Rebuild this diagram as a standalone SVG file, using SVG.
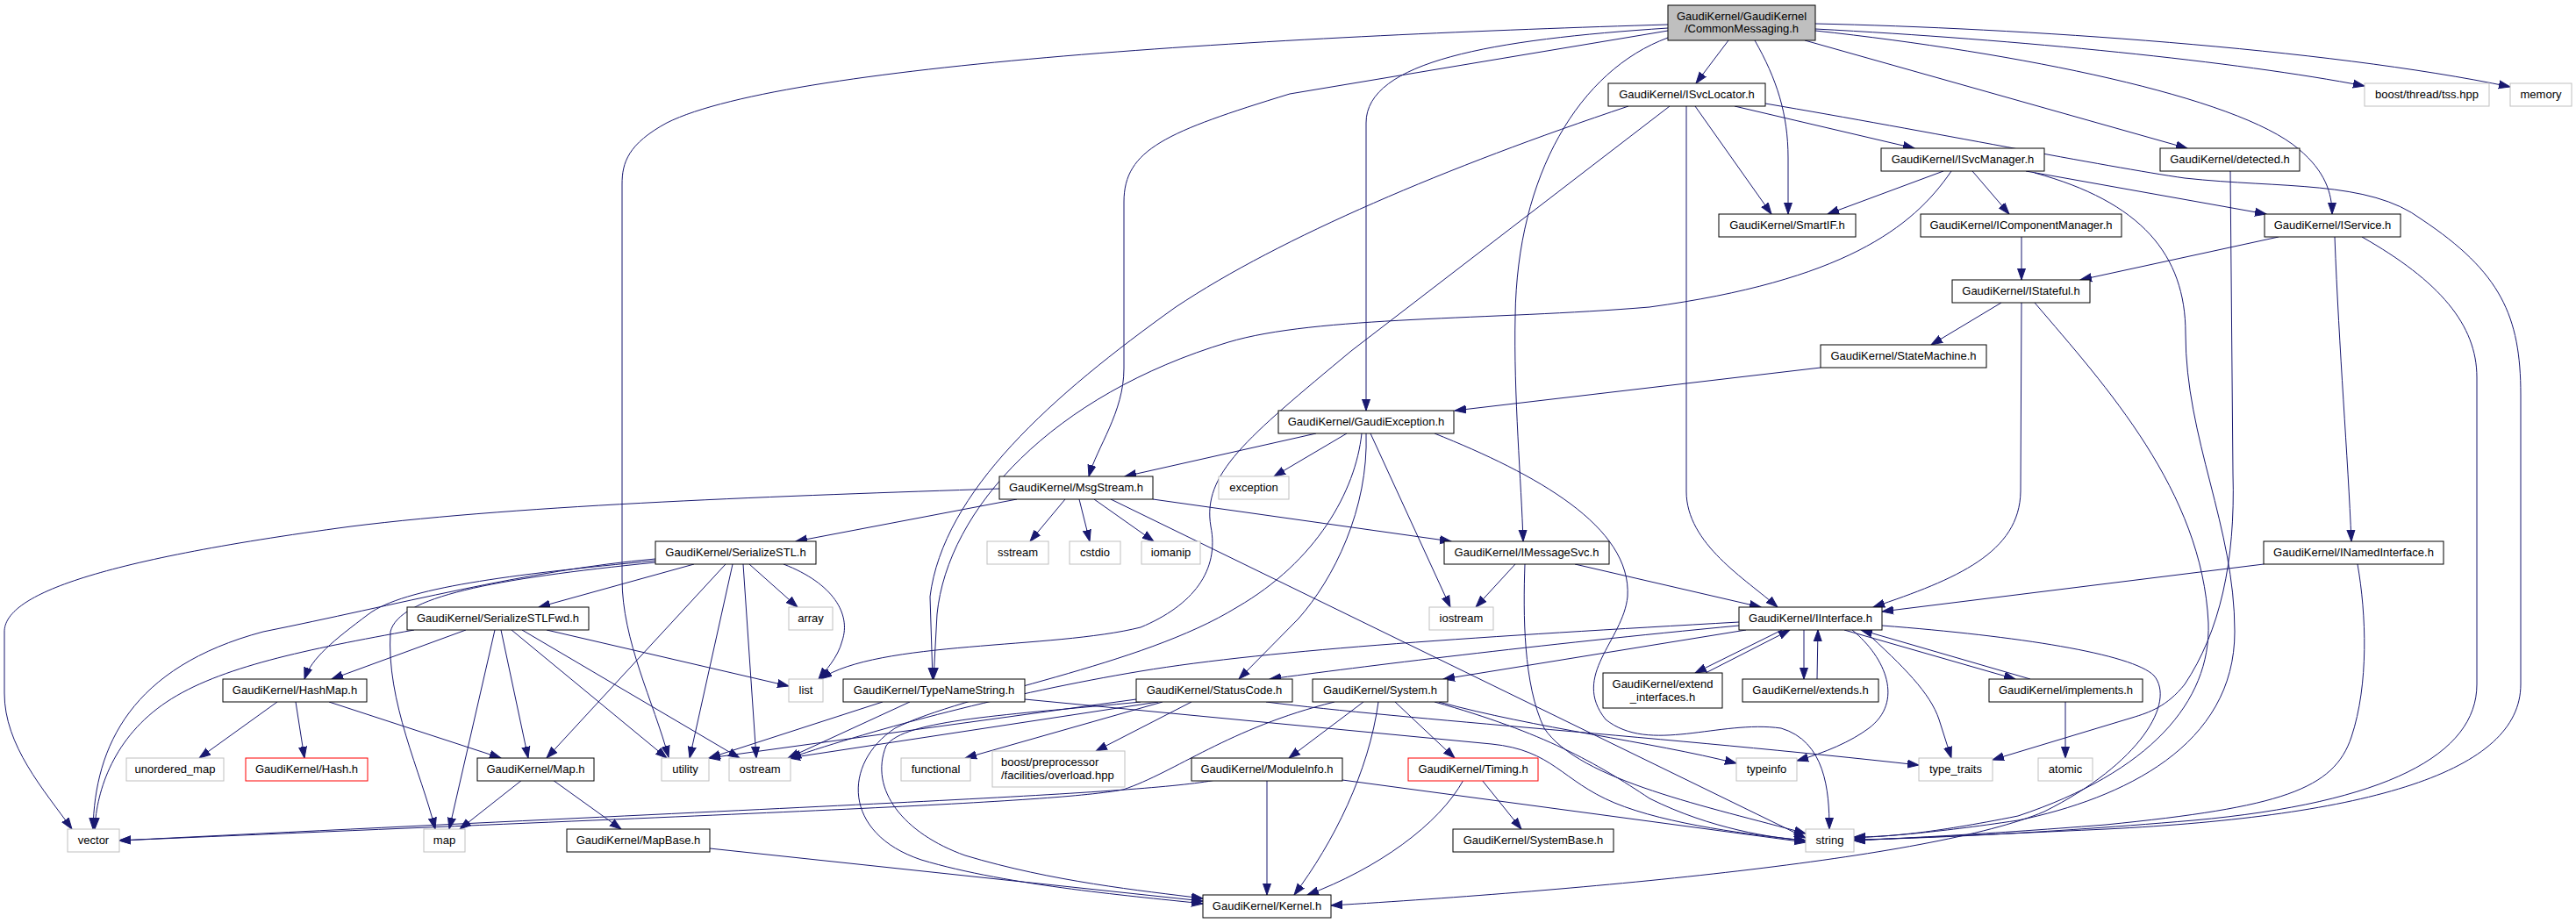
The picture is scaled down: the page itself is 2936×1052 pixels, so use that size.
<svg xmlns="http://www.w3.org/2000/svg" width="2936" height="1052" viewBox="0 0 2936 1052">
<defs>
<marker id="ah" markerUnits="userSpaceOnUse" markerWidth="14" markerHeight="11" viewBox="0 0 14 11" refX="13" refY="5.5" orient="auto">
<path d="M0,1 L13,5.5 L0,10 Z" fill="#191970" stroke="#191970" stroke-width="1"/>
</marker>
<style>
rect{fill:#fff;stroke:#000;stroke-width:1}
.gray rect{stroke:#bfbfbf}
.red rect{stroke:#ff0000}
.root rect{fill:#bfbfbf}
text{font-family:"Liberation Sans",Arial,Helvetica,sans-serif;font-size:13px;fill:#000;text-anchor:middle}
.left text{text-anchor:start}
#edges path{fill:none;stroke:#191970;stroke-width:1;marker-end:url(#ah)}
</style>
</defs>
<rect x="0" y="0" width="2936" height="1052" style="fill:#fff;stroke:none"/>
<g id="edges">
<path d="M1901,28 C1500,40 900,70 760,140 C716,164 709,185 709,210 L709,660 C709,730 745,800 762,863"/>
<path d="M1901,32 C1700,45 1557,70 1557,140 L1557,468"/>
<path d="M1901,35 L1470,107 C1330,150 1281,170 1281,230 L1281,420 C1281,470 1250,510 1241,543"/>
<path d="M1901,43 C1800,80 1729,200 1727,360 C1725,450 1734,550 1736,617"/>
<path d="M1970,46 L1933,95"/>
<path d="M2000,46 C2025,90 2038,130 2038,180 L2038,244"/>
<path d="M2069,27 C2300,32 2650,55 2861,99"/>
<path d="M2069,33 C2300,45 2550,70 2695,98"/>
<path d="M2069,35 C2300,60 2550,110 2620,170 C2650,195 2658,220 2658,244"/>
<path d="M2057,46 L2493,169"/>
<path d="M1856,121 C1650,190 1460,270 1340,350 C1200,450 1075,560 1060,680 L1063,774"/>
<path d="M2224,195 C2180,260 2100,320 1880,350 C1700,365 1500,360 1400,390 C1200,450 1080,580 1068,700 L1064,774"/>
<path d="M1903,121 L1540,400 C1420,500 1370,540 1380,600 C1390,650 1360,690 1300,715 C1200,740 1000,730 935,774"/>
<path d="M1922,121 L1922,560 C1922,620 1990,660 2026,692"/>
<path d="M1932,121 L2019,244"/>
<path d="M1977,121 L2182,169"/>
<path d="M2012,118 C2200,150 2400,190 2490,203 C2600,215 2700,205 2760,250 C2850,310 2873,360 2873,450 L2873,780 C2873,880 2700,930 2400,945 C2250,952 2150,956 2113,958"/>
<path d="M2215,195 L2083,244"/>
<path d="M2248,195 L2290,244"/>
<path d="M2309,195 L2583,244"/>
<path d="M2319,197 C2440,230 2491,290 2491,380 C2491,500 2547,600 2547,720 C2547,850 2420,910 2300,935 C2200,950 2150,953 2113,955"/>
<path d="M2542,195 L2545,540 C2548,640 2530,720 2490,780 C2470,805 2450,812 2430,818 L2271,866"/>
<path d="M2304,270 L2304,319"/>
<path d="M2597,270 L2371,319"/>
<path d="M2661,270 C2666,400 2676,520 2680,617"/>
<path d="M2692,270 C2780,320 2823,370 2823,430 L2823,780 C2823,860 2720,915 2500,935 C2300,952 2170,956 2113,957"/>
<path d="M2281,345 L2201,393"/>
<path d="M2304,345 L2303,560 C2302,630 2230,660 2135,692"/>
<path d="M2319,345 C2400,440 2510,560 2517,710 C2520,800 2450,880 2300,930 C2200,950 2150,954 2113,954"/>
<path d="M2075,419 L1658,468"/>
<path d="M1500,494 L1282,543"/>
<path d="M1535,494 L1452,543"/>
<path d="M1552,494 C1545,560 1500,640 1410,692 C1300,760 1100,790 1020,830 C960,870 960,950 1050,980 C1150,1010 1300,1022 1371,1030"/>
<path d="M1557,494 C1560,580 1520,660 1480,705 L1412,774"/>
<path d="M1562,494 L1653,692"/>
<path d="M1635,494 C1750,540 1860,600 1855,680 C1850,730 1790,770 1830,820 C1880,860 1960,820 2030,830 C2080,845 2085,900 2085,945"/>
<path d="M1139,557 C900,565 600,575 400,600 C100,640 5,680 5,720 L5,790 C5,850 50,900 82,945"/>
<path d="M1159,569 L907,617"/>
<path d="M1214,569 L1174,617"/>
<path d="M1230,569 L1242,617"/>
<path d="M1247,569 L1315,617"/>
<path d="M1266,569 L2058,955"/>
<path d="M1314,569 L1654,617"/>
<path d="M791,643 L614,692"/>
<path d="M747,637 C600,650 450,690 300,720 C150,760 108,850 106,945"/>
<path d="M747,639 C580,655 460,670 420,700 C380,730 355,750 347,774"/>
<path d="M747,641 C560,660 455,680 445,720 C440,800 480,880 496,945"/>
<path d="M827,643 L623,864"/>
<path d="M835,643 L786,864"/>
<path d="M847,643 L862,864"/>
<path d="M854,643 L909,692"/>
<path d="M893,643 C950,665 970,700 960,730 C955,750 940,765 933,774"/>
<path d="M472,718 C350,740 250,760 190,800 C130,840 110,900 108,945"/>
<path d="M531,718 L378,774"/>
<path d="M564,718 L512,945"/>
<path d="M571,718 L602,864"/>
<path d="M583,718 L760,864"/>
<path d="M595,718 L843,864"/>
<path d="M623,718 L899,782"/>
<path d="M316,800 L227,864"/>
<path d="M337,800 L347,864"/>
<path d="M375,800 L571,864"/>
<path d="M595,889 L524,945"/>
<path d="M630,889 L708,945"/>
<path d="M809,967 L1371,1027"/>
<path d="M1006,800 L808,864"/>
<path d="M1037,800 L898,864"/>
<path d="M1168,797 L1700,848 C1770,855 1780,890 1840,915 C1900,940 2000,952 2058,958"/>
<path d="M1295,797 L808,864"/>
<path d="M1320,800 L899,864"/>
<path d="M1325,800 L1100,864"/>
<path d="M1358,800 L1249,856"/>
<path d="M1300,800 C1150,815 1030,820 1010,850 C990,900 1030,950 1100,975 C1200,1005 1300,1015 1371,1024"/>
<path d="M1443,800 C1600,820 1900,840 2187,872"/>
<path d="M1982,709 C1700,725 1450,740 1300,765 C1150,790 1000,830 900,864"/>
<path d="M1982,713 C1750,735 1550,760 1447,774"/>
<path d="M1990,718 L1645,774"/>
<path d="M2031,718 L1932,767"/>
<path d="M1944,767 L2040,718"/>
<path d="M2056,718 L2056,774"/>
<path d="M2071,774 L2072,718"/>
<path d="M2102,718 L2297,774"/>
<path d="M2314,774 L2121,718"/>
<path d="M2111,718 C2150,750 2170,800 2130,830 C2110,845 2080,858 2048,867"/>
<path d="M2124,718 C2170,760 2200,790 2210,820 L2224,864"/>
<path d="M2145,713 C2300,725 2430,745 2455,770 C2480,800 2440,870 2330,925 C2200,980 1800,1015 1517,1032"/>
<path d="M1727,643 L1682,692"/>
<path d="M1738,643 C1736,700 1736,780 1760,830 C1800,890 1950,920 2058,950"/>
<path d="M1795,643 L2007,692"/>
<path d="M2580,643 L2145,697"/>
<path d="M2687,643 C2697,700 2700,780 2680,840 C2660,900 2600,920 2400,940 C2250,952 2150,956 2113,958"/>
<path d="M1521,800 C1400,830 1340,880 1280,900 C1200,915 900,925 136,958"/>
<path d="M1554,800 L1469,864"/>
<path d="M1571,800 C1560,880 1520,960 1475,1020"/>
<path d="M1590,800 L1658,864"/>
<path d="M1640,800 C1750,830 1880,845 1979,870"/>
<path d="M1635,800 C1760,835 1820,870 1880,910 C1950,945 2020,955 2058,958"/>
<path d="M1386,889 C1300,905 1000,915 136,958"/>
<path d="M1444,889 L1444,1020"/>
<path d="M1530,889 L2058,960"/>
<path d="M1689,889 L1734,945"/>
<path d="M1668,889 C1640,940 1570,990 1490,1020"/>
<path d="M2354,800 L2354,864"/>
</g>
<g id="n_root" class="root"><rect x="1901" y="6" width="168" height="40"/><text x="1985" y="23">GaudiKernel/GaudiKernel</text><text x="1985" y="37">/CommonMessaging.h</text></g>
<g id="n_ISvcLocator"><rect x="1833" y="95" width="179" height="26"/><text x="1922.5" y="112">GaudiKernel/ISvcLocator.h</text></g>
<g id="n_ISvcManager"><rect x="2144" y="169" width="186" height="26"/><text x="2237" y="186">GaudiKernel/ISvcManager.h</text></g>
<g id="n_detected"><rect x="2462" y="169" width="159" height="26"/><text x="2541.5" y="186">GaudiKernel/detected.h</text></g>
<g id="n_tss" class="gray"><rect x="2695" y="95" width="142" height="26"/><text x="2766" y="112">boost/thread/tss.hpp</text></g>
<g id="n_memory" class="gray"><rect x="2861" y="95" width="70" height="26"/><text x="2896" y="112">memory</text></g>
<g id="n_SmartIF"><rect x="1959" y="244" width="156" height="26"/><text x="2037" y="261">GaudiKernel/SmartIF.h</text></g>
<g id="n_IComponentManager"><rect x="2189" y="244" width="229" height="26"/><text x="2303.5" y="261">GaudiKernel/IComponentManager.h</text></g>
<g id="n_IService"><rect x="2581" y="244" width="155" height="26"/><text x="2658.5" y="261">GaudiKernel/IService.h</text></g>
<g id="n_IStateful"><rect x="2225" y="319" width="157" height="26"/><text x="2303.5" y="336">GaudiKernel/IStateful.h</text></g>
<g id="n_StateMachine"><rect x="2075" y="393" width="189" height="26"/><text x="2169.5" y="410">GaudiKernel/StateMachine.h</text></g>
<g id="n_GaudiException"><rect x="1457" y="468" width="200" height="26"/><text x="1557" y="485">GaudiKernel/GaudiException.h</text></g>
<g id="n_MsgStream"><rect x="1139" y="543" width="175" height="26"/><text x="1226.5" y="560">GaudiKernel/MsgStream.h</text></g>
<g id="n_exception" class="gray"><rect x="1389" y="543" width="80" height="26"/><text x="1429" y="560">exception</text></g>
<g id="n_SerializeSTL"><rect x="747" y="617" width="183" height="26"/><text x="838.5" y="634">GaudiKernel/SerializeSTL.h</text></g>
<g id="n_sstream" class="gray"><rect x="1125" y="617" width="70" height="26"/><text x="1160" y="634">sstream</text></g>
<g id="n_cstdio" class="gray"><rect x="1219" y="617" width="58" height="26"/><text x="1248" y="634">cstdio</text></g>
<g id="n_iomanip" class="gray"><rect x="1301" y="617" width="67" height="26"/><text x="1334.5" y="634">iomanip</text></g>
<g id="n_IMessageSvc"><rect x="1646" y="617" width="188" height="26"/><text x="1740" y="634">GaudiKernel/IMessageSvc.h</text></g>
<g id="n_INamedInterface"><rect x="2580" y="617" width="205" height="26"/><text x="2682.5" y="634">GaudiKernel/INamedInterface.h</text></g>
<g id="n_array" class="gray"><rect x="899" y="692" width="50" height="26"/><text x="924" y="709">array</text></g>
<g id="n_SerializeSTLFwd"><rect x="464" y="692" width="207" height="26"/><text x="567.5" y="709">GaudiKernel/SerializeSTLFwd.h</text></g>
<g id="n_iostream" class="gray"><rect x="1629" y="692" width="73" height="26"/><text x="1665.5" y="709">iostream</text></g>
<g id="n_IInterface"><rect x="1982" y="692" width="163" height="26"/><text x="2063.5" y="709">GaudiKernel/IInterface.h</text></g>
<g id="n_HashMap"><rect x="254" y="774" width="164" height="26"/><text x="336" y="791">GaudiKernel/HashMap.h</text></g>
<g id="n_list" class="gray"><rect x="899" y="774" width="39" height="26"/><text x="918.5" y="791">list</text></g>
<g id="n_TypeNameString"><rect x="961" y="774" width="207" height="26"/><text x="1064.5" y="791">GaudiKernel/TypeNameString.h</text></g>
<g id="n_StatusCode"><rect x="1295" y="774" width="178" height="26"/><text x="1384" y="791">GaudiKernel/StatusCode.h</text></g>
<g id="n_System"><rect x="1496" y="774" width="154" height="26"/><text x="1573" y="791">GaudiKernel/System.h</text></g>
<g id="n_extend_interfaces"><rect x="1827" y="767" width="136" height="40"/><text x="1895" y="784">GaudiKernel/extend</text><text x="1895" y="799">_interfaces.h</text></g>
<g id="n_extends"><rect x="1986" y="774" width="155" height="26"/><text x="2063.5" y="791">GaudiKernel/extends.h</text></g>
<g id="n_implements"><rect x="2267" y="774" width="175" height="26"/><text x="2354.5" y="791">GaudiKernel/implements.h</text></g>
<g id="n_unordered_map" class="gray"><rect x="144" y="864" width="111" height="26"/><text x="199.5" y="881">unordered_map</text></g>
<g id="n_Hash" class="red"><rect x="280" y="864" width="139" height="26"/><text x="349.5" y="881">GaudiKernel/Hash.h</text></g>
<g id="n_Map"><rect x="544" y="864" width="133" height="26"/><text x="610.5" y="881">GaudiKernel/Map.h</text></g>
<g id="n_utility" class="gray"><rect x="754" y="864" width="54" height="26"/><text x="781" y="881">utility</text></g>
<g id="n_ostream" class="gray"><rect x="831" y="864" width="70" height="26"/><text x="866" y="881">ostream</text></g>
<g id="n_functional" class="gray"><rect x="1027" y="864" width="79" height="26"/><text x="1066.5" y="881">functional</text></g>
<g id="n_overload" class="gray left"><rect x="1131" y="856" width="151" height="41"/><text x="1141" y="873">boost/preprocessor</text><text x="1141" y="888">/facilities/overload.hpp</text></g>
<g id="n_ModuleInfo"><rect x="1358" y="864" width="172" height="26"/><text x="1444" y="881">GaudiKernel/ModuleInfo.h</text></g>
<g id="n_Timing" class="red"><rect x="1605" y="864" width="148" height="26"/><text x="1679" y="881">GaudiKernel/Timing.h</text></g>
<g id="n_typeinfo" class="gray"><rect x="1979" y="864" width="69" height="26"/><text x="2013.5" y="881">typeinfo</text></g>
<g id="n_type_traits" class="gray"><rect x="2187" y="864" width="84" height="26"/><text x="2229" y="881">type_traits</text></g>
<g id="n_atomic" class="gray"><rect x="2323" y="864" width="62" height="26"/><text x="2354" y="881">atomic</text></g>
<g id="n_vector" class="gray"><rect x="77" y="945" width="59" height="26"/><text x="106.5" y="962">vector</text></g>
<g id="n_map" class="gray"><rect x="483" y="945" width="47" height="26"/><text x="506.5" y="962">map</text></g>
<g id="n_MapBase"><rect x="646" y="945" width="163" height="26"/><text x="727.5" y="962">GaudiKernel/MapBase.h</text></g>
<g id="n_SystemBase"><rect x="1656" y="945" width="183" height="26"/><text x="1747.5" y="962">GaudiKernel/SystemBase.h</text></g>
<g id="n_string" class="gray"><rect x="2058" y="945" width="55" height="26"/><text x="2085.5" y="962">string</text></g>
<g id="n_Kernel"><rect x="1371" y="1020" width="146" height="26"/><text x="1444" y="1037">GaudiKernel/Kernel.h</text></g>
</svg>
